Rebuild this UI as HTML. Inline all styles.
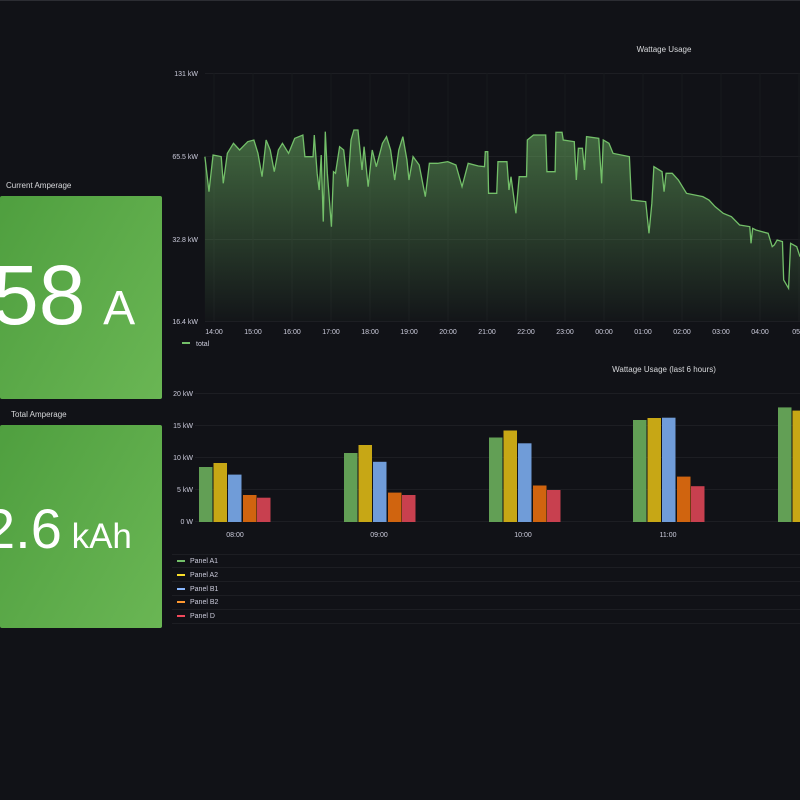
<!DOCTYPE html>
<html><head><meta charset="utf-8"><style>
body{margin:0;width:800px;height:800px;background:#111217;overflow:hidden;font-family:"Liberation Sans",sans-serif;position:relative}
.t{position:absolute;color:#d8d9dc;font-size:8px}
.stat{position:absolute;left:0;width:162px;border-radius:2px;background:linear-gradient(120deg,#4f9f3f,#6ab654);color:#fff;overflow:hidden}
.big{position:absolute;white-space:nowrap;font-family:"Liberation Sans",sans-serif}
</style></head><body>
<div style="position:absolute;left:0;top:0;width:800px;height:1px;background:#2c2d33"></div>
<div class="t" style="left:6px;top:181px">Current Amperage</div>
<div class="stat" style="top:196px;height:203px">
 <div class="big" style="left:-8px;top:57px;font-size:84px;line-height:84px">58<span style="font-size:48px;padding-left:7px"> A</span></div>
</div>
<div class="t" style="left:11px;top:410px">Total Amperage</div>
<div class="stat" style="top:425px;height:203px">
 <div class="big" style="left:-16px;top:74px;font-size:56px;line-height:60px">2.6<span style="font-size:35px"> kAh</span></div>
</div>
<svg width="800" height="800" style="position:absolute;left:0;top:0" font-family="Liberation Sans,sans-serif">
<defs><linearGradient id="g" x1="0" y1="0" x2="0" y2="1"><stop offset="0" stop-color="#73bf69" stop-opacity="0.5"/><stop offset="1" stop-color="#73bf69" stop-opacity="0.02"/></linearGradient></defs>
<text x="664" y="52" fill="#d8d9dc" font-size="8" text-anchor="middle">Wattage Usage</text>
<g stroke="#1d1e23" stroke-width="1">
<line x1="205" y1="73.5" x2="800" y2="73.5"/><line x1="205" y1="156.5" x2="800" y2="156.5"/><line x1="205" y1="239.5" x2="800" y2="239.5"/><line x1="205" y1="321.5" x2="800" y2="321.5"/>
</g>
<g stroke="#18191e" stroke-width="1">
<line x1="214" y1="73" x2="214" y2="321"/><line x1="253" y1="73" x2="253" y2="321"/><line x1="292" y1="73" x2="292" y2="321"/><line x1="331" y1="73" x2="331" y2="321"/><line x1="370" y1="73" x2="370" y2="321"/><line x1="409" y1="73" x2="409" y2="321"/><line x1="448" y1="73" x2="448" y2="321"/><line x1="487" y1="73" x2="487" y2="321"/><line x1="526" y1="73" x2="526" y2="321"/><line x1="565" y1="73" x2="565" y2="321"/><line x1="604" y1="73" x2="604" y2="321"/><line x1="643" y1="73" x2="643" y2="321"/><line x1="682" y1="73" x2="682" y2="321"/><line x1="721" y1="73" x2="721" y2="321"/><line x1="760" y1="73" x2="760" y2="321"/><line x1="799" y1="73" x2="799" y2="321"/>
</g>
<g fill="#ccccdc" font-size="7" text-anchor="end"><text x="198" y="76">131 kW</text><text x="198" y="159">65.5 kW</text><text x="198" y="242">32.8 kW</text><text x="198" y="324">16.4 kW</text></g>
<g fill="#ccccdc" font-size="7" text-anchor="middle"><text x="214" y="334">14:00</text><text x="253" y="334">15:00</text><text x="292" y="334">16:00</text><text x="331" y="334">17:00</text><text x="370" y="334">18:00</text><text x="409" y="334">19:00</text><text x="448" y="334">20:00</text><text x="487" y="334">21:00</text><text x="526" y="334">22:00</text><text x="565" y="334">23:00</text><text x="604" y="334">00:00</text><text x="643" y="334">01:00</text><text x="682" y="334">02:00</text><text x="721" y="334">03:00</text><text x="760" y="334">04:00</text><text x="801" y="334">05:00</text></g>
<g transform="translate(160,40) scale(0.40816,0.33333)">
<path fill="url(#g)" d="M110,843 L110,350 120,455 130,345 150,350 155,430 165,340 180,310 195,330 215,305 230,300 240,340 250,410 260,300 270,330 280,395 290,330 300,310 315,340 330,295 350,285 355,350 375,350 378,285 385,400 390,450 395,345 400,545 405,275 410,400 420,560 425,395 430,400 440,320 450,330 460,440 468,300 475,270 485,270 490,330 495,390 500,320 510,440 520,330 530,380 545,310 555,290 565,330 575,420 585,330 595,290 605,360 610,420 620,350 635,375 650,470 660,370 680,370 705,365 725,375 740,440 755,370 780,378 795,380 797,335 803,335 805,460 825,460 828,365 850,365 855,450 860,410 872,520 880,410 898,410 900,300 915,285 945,285 948,395 968,395 970,277 985,277 988,300 1015,305 1020,420 1025,325 1035,325 1040,390 1045,290 1075,295 1082,430 1086,300 1100,310 1110,340 1150,350 1155,480 1190,485 1198,580 1205,490 1210,380 1230,395 1235,455 1240,400 1255,400 1270,420 1280,440 1290,460 1330,470 1345,480 1360,500 1380,520 1400,530 1420,555 1445,560 1448,610 1452,565 1460,570 1490,580 1500,620 1505,615 1512,600 1525,605 1528,720 1540,745 1545,610 1560,620 1568,650 L1568,843 Z"/>
<path fill="none" stroke="#73bf69" stroke-width="1.3" vector-effect="non-scaling-stroke" d="M110,350 120,455 130,345 150,350 155,430 165,340 180,310 195,330 215,305 230,300 240,340 250,410 260,300 270,330 280,395 290,330 300,310 315,340 330,295 350,285 355,350 375,350 378,285 385,400 390,450 395,345 400,545 405,275 410,400 420,560 425,395 430,400 440,320 450,330 460,440 468,300 475,270 485,270 490,330 495,390 500,320 510,440 520,330 530,380 545,310 555,290 565,330 575,420 585,330 595,290 605,360 610,420 620,350 635,375 650,470 660,370 680,370 705,365 725,375 740,440 755,370 780,378 795,380 797,335 803,335 805,460 825,460 828,365 850,365 855,450 860,410 872,520 880,410 898,410 900,300 915,285 945,285 948,395 968,395 970,277 985,277 988,300 1015,305 1020,420 1025,325 1035,325 1040,390 1045,290 1075,295 1082,430 1086,300 1100,310 1110,340 1150,350 1155,480 1190,485 1198,580 1205,490 1210,380 1230,395 1235,455 1240,400 1255,400 1270,420 1280,440 1290,460 1330,470 1345,480 1360,500 1380,520 1400,530 1420,555 1445,560 1448,610 1452,565 1460,570 1490,580 1500,620 1505,615 1512,600 1525,605 1528,720 1540,745 1545,610 1560,620 1568,650"/>
</g>
<rect x="182" y="342" width="8" height="2" fill="#73bf69"/><text x="196" y="346" fill="#ccccdc" font-size="7">total</text>

<text x="664" y="372" fill="#d8d9dc" font-size="8" text-anchor="middle">Wattage Usage (last 6 hours)</text>
<g stroke="#1d1e23"><line x1="195" y1="393.5" x2="800" y2="393.5"/><line x1="195" y1="425.5" x2="800" y2="425.5"/><line x1="195" y1="457.5" x2="800" y2="457.5"/><line x1="195" y1="489.5" x2="800" y2="489.5"/><line x1="195" y1="521.5" x2="800" y2="521.5"/></g>
<g fill="#ccccdc" font-size="7" text-anchor="end"><text x="193" y="396">20 kW</text><text x="193" y="428">15 kW</text><text x="193" y="460">10 kW</text><text x="193" y="492">5 kW</text><text x="193" y="524">0 W</text></g>
<g fill="#ccccdc" font-size="7" text-anchor="middle"><text x="235" y="537">08:00</text><text x="379" y="537">09:00</text><text x="523" y="537">10:00</text><text x="668" y="537">11:00</text></g>
<g>
<rect x="199" y="467" width="13.5" height="55" fill="#629f55"/><rect x="213.5" y="463" width="13.5" height="59" fill="#c7a715"/><rect x="228" y="474.6" width="13.5" height="47.4" fill="#709cd8"/><rect x="243" y="495" width="13.5" height="27" fill="#d0640f"/><rect x="257" y="497.7" width="13.5" height="24.3" fill="#c8404f"/>
<rect x="344" y="453" width="13.5" height="69" fill="#629f55"/><rect x="358.5" y="445" width="13.5" height="77" fill="#c7a715"/><rect x="373" y="461.8" width="13.5" height="60.2" fill="#709cd8"/><rect x="388" y="492.6" width="13.5" height="29.4" fill="#d0640f"/><rect x="402" y="495" width="13.5" height="27" fill="#c8404f"/>
<rect x="489" y="437.5" width="13.5" height="84.5" fill="#629f55"/><rect x="503.5" y="430.5" width="13.5" height="91.5" fill="#c7a715"/><rect x="518" y="443.3" width="13.5" height="78.7" fill="#709cd8"/><rect x="533" y="485.5" width="13.5" height="36.5" fill="#d0640f"/><rect x="547" y="490" width="13.5" height="32" fill="#c8404f"/>
<rect x="633" y="420" width="13.5" height="102" fill="#629f55"/><rect x="647.5" y="418" width="13.5" height="104" fill="#c7a715"/><rect x="662" y="417.7" width="13.5" height="104.3" fill="#709cd8"/><rect x="677" y="476.6" width="13.5" height="45.4" fill="#d0640f"/><rect x="691" y="486.2" width="13.5" height="35.8" fill="#c8404f"/>
<rect x="778" y="407.4" width="13.5" height="114.6" fill="#629f55"/><rect x="792.5" y="410.6" width="13.5" height="111.4" fill="#c7a715"/>
</g>
<g stroke="#1d1e23"><line x1="172" y1="554.5" x2="800" y2="554.5"/><line x1="172" y1="567.5" x2="800" y2="567.5"/><line x1="172" y1="581.5" x2="800" y2="581.5"/><line x1="172" y1="595.5" x2="800" y2="595.5"/><line x1="172" y1="609.5" x2="800" y2="609.5"/><line x1="172" y1="623.5" x2="800" y2="623.5"/></g>
<g font-size="7" fill="#ccccdc">
<rect x="177" y="560" width="8" height="2" fill="#73bf69"/><text x="190" y="563">Panel A1</text>
<rect x="177" y="574" width="8" height="2" fill="#fade2a"/><text x="190" y="577">Panel A2</text>
<rect x="177" y="588" width="8" height="2" fill="#8ab8ff"/><text x="190" y="591">Panel B1</text>
<rect x="177" y="601" width="8" height="2" fill="#ff9830"/><text x="190" y="604">Panel B2</text>
<rect x="177" y="615" width="8" height="2" fill="#f2495c"/><text x="190" y="618">Panel D</text>
</g>
</svg>
</body></html>
